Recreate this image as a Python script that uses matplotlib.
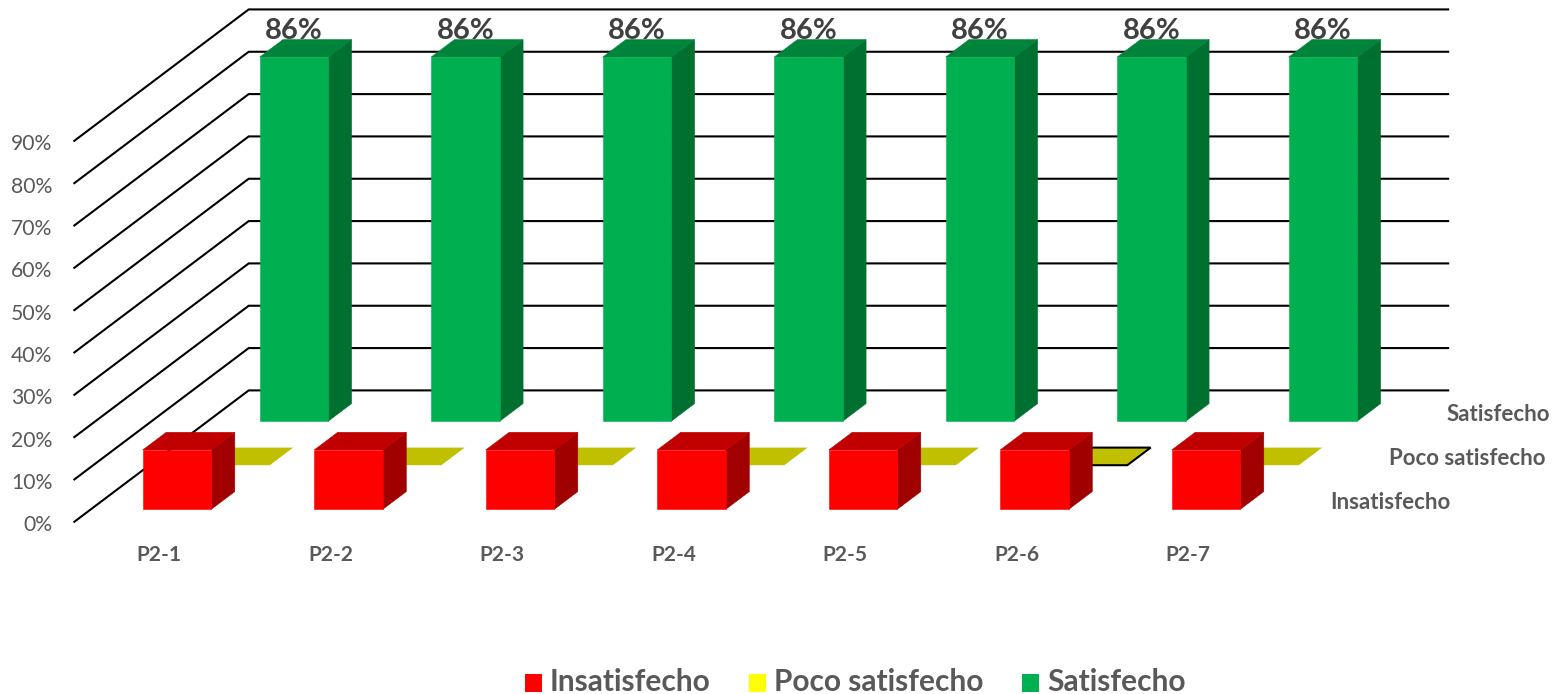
import matplotlib.pyplot as plt
from matplotlib.patches import Polygon, Rectangle

plt.rcParams['font.family'] = ['Lato', 'DejaVu Sans']

categories = ['P2-1', 'P2-2', 'P2-3', 'P2-4', 'P2-5', 'P2-6', 'P2-7']
series_names = ['Insatisfecho', 'Poco satisfecho', 'Satisfecho']
insatisfecho = [14, 14, 14, 14, 14, 14, 14]
poco_satisfecho = [0, 0, 0, 0, 0, 0, 0]
satisfecho = [86, 86, 86, 86, 86, 86, 86]
ticks = [0, 10, 20, 30, 40, 50, 60, 70, 80, 90]

# front, top, side colours per series
colors = [('#FF0000', '#C00000', '#A00000'),
          ('#FFFF00', '#C0C000', '#A0A000'),
          ('#00B050', '#00843C', '#007030')]
GRAY = '#595959'

# oblique projection, pixels
X0, Y0 = 73.5, 522.4
CAT_W, DEPTH_X, DEPTH_Y, VAL_H = 171.5, 58.4, 44, 4.233
BAR_START, BAR_SIZE = 0.302, 0.4


def proj(c, d, v):
    return (X0 + CAT_W * c + DEPTH_X * d, Y0 - DEPTH_Y * d - VAL_H * v)


fig = plt.figure(figsize=(15.52, 6.94), dpi=100)
ax = fig.add_axes([0, 0, 1, 1])
ax.set_xlim(0, 1552)
ax.set_ylim(694, 0)
ax.axis('off')

# walls
n_cat = len(categories)
n_ser = len(series_names)
for t in ticks:
    pts = [proj(0, 0, t), proj(0, n_ser, t), proj(n_cat, n_ser, t)]
    ax.plot([p[0] for p in pts], [p[1] for p in pts], color='black', lw=1.5,
            solid_joinstyle='miter', solid_capstyle='butt', zorder=1)
    x, y = proj(0, 0, t)
    ax.text(x - 21, y + 3, f'{t}%', ha='right', va='center', fontsize=15.2, color=GRAY)


def draw_bar(c, s, v, z, outline=False):
    c0, c1 = c + BAR_START, c + BAR_START + BAR_SIZE
    d0, d1 = s + 0.3, s + 0.7
    front = [proj(c0, d0, 0), proj(c1, d0, 0), proj(c1, d0, v), proj(c0, d0, v)]
    side = [proj(c1, d0, 0), proj(c1, d1, 0), proj(c1, d1, v), proj(c1, d0, v)]
    top = [proj(c0, d0, v), proj(c1, d0, v), proj(c1, d1, v), proj(c0, d1, v)]
    cf, ct, cs = colors[s]
    if v > 0:
        # thin edge in the face colour closes the seams between faces
        ax.add_patch(Polygon(side, fc=cs, ec=cs, lw=0.4, zorder=z))
        ax.add_patch(Polygon(top, fc=ct, ec=ct, lw=0.4, zorder=z))
        ax.add_patch(Polygon(front, fc=cf, ec=cf, lw=0.4, zorder=z))
    else:
        edge = 'black' if outline else 'none'
        ax.add_patch(Polygon(top, fc=ct, ec=edge, lw=1.5, zorder=z))


# back series first so the nearer bars cover them
values = [insatisfecho, poco_satisfecho, satisfecho]
for s in [2, 1, 0]:
    for c in range(n_cat):
        # P2-6 keeps a black outline on its flat bar
        draw_bar(c, s, values[s][c], 2 + (2 - s), outline=(s == 1 and c == 5))

for c, v in enumerate(satisfecho):
    x, y = proj(c + BAR_START + BAR_SIZE / 2, 2.3, v)
    ax.text(x, y - 26, f'{v}%', ha='center', va='center', fontsize=21,
            fontweight='bold', color='#404040', zorder=6)

for c, name in enumerate(categories):
    x, y = proj(c + 0.5, 0, 0)
    ax.text(x, y + 33, name, ha='center', va='center', fontsize=15,
            fontweight='bold', color=GRAY)

# depth axis labels, stepping back with each series
for s, name in enumerate(series_names):
    x, y = proj(n_cat, s + 0.5, 0)
    ax.text(x + 27, y + 2, name, ha='left', va='center', fontsize=16,
            fontweight='bold', color=GRAY)

# legend
legend_x = [525, 749, 1022]
for s, name in enumerate(series_names):
    ax.add_patch(Rectangle((legend_x[s], 674), 17, 18, fc=colors[s][0], ec='none'))
    ax.text(legend_x[s] + 25, 682, name, ha='left', va='center', fontsize=21.5,
            fontweight='bold', color=GRAY)

fig.savefig('out.png', dpi=100)
